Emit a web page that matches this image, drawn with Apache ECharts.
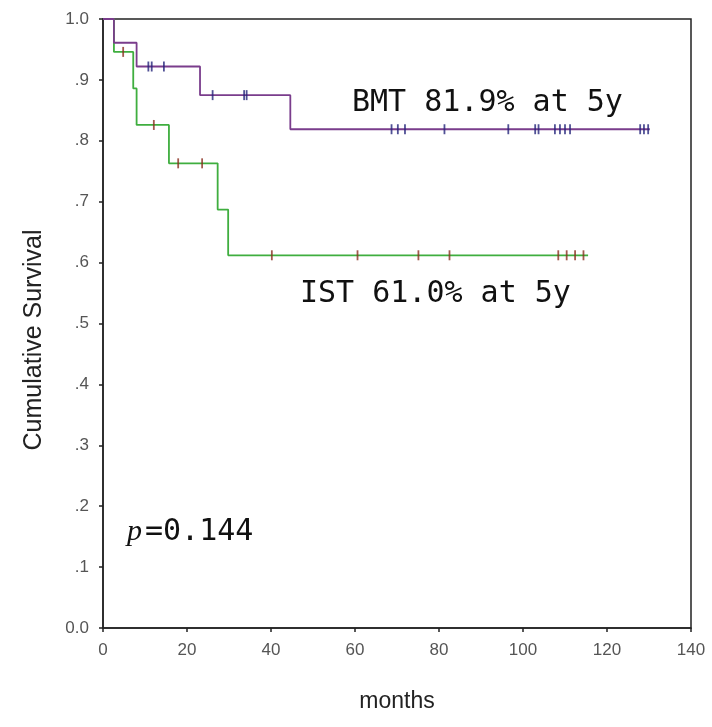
<!DOCTYPE html>
<html>
<head>
<meta charset="utf-8">
<script src="https://cdn.jsdelivr.net/npm/echarts@6/dist/echarts.min.js"></script>
<style>
html,body{margin:0;padding:0;background:#fff;}
#chart{width:712px;height:727px;}
</style>
</head>
<body>
<div id="chart"></div>
<script>
// ---- data ----
const xTickLabels = ['0','20','40','60','80','100','120','140'];
const yTickLabels = ['0.0','.1','.2','.3','.4','.5','.6','.7','.8','.9','1.0'];

const bmtEventTimes = [0, 2.6, 8.0, 23.1, 44.6];
const bmtSurvival   = [1.0, 0.961, 0.922, 0.875, 0.819];
const bmtEnd = 130.2;
const bmtCensored = [10.8, 11.6, 14.5, 26.1, 33.6, 34.2, 68.7, 70.2, 71.9, 81.3, 96.5,
                     102.9, 103.7, 107.6, 108.8, 110.0, 111.2, 127.9, 128.8, 129.8];

const istEventTimes = [0, 2.6, 7.2, 8.0, 15.7, 27.3, 29.8];
const istSurvival   = [1.0, 0.946, 0.886, 0.826, 0.763, 0.687, 0.612];
const istEnd = 115.5;
const istCensored = [4.8, 12.1, 17.9, 23.6, 40.2, 60.6, 75.1, 82.5, 108.4, 110.4, 112.4, 114.4];

const yTitle = 'Cumulative Survival';
const xTitle = 'months';
const bmtLabel = 'BMT 81.9% at 5y';
const istLabel = 'IST 61.0% at 5y';
const pLabel = '=0.144';

// ---- helpers ----
function stepData(times, surv, end) {
  const d = times.map((t, i) => [t, surv[i]]);
  d.push([end, surv[surv.length - 1]]);
  return d;
}
function survAt(times, surv, t) {
  let s = surv[0];
  for (let i = 0; i < times.length; i++) { if (times[i] <= t) s = surv[i]; }
  return s;
}
function censorData(cens, times, surv) {
  return cens.map(t => [t, survAt(times, surv, t)]);
}

const chart = echarts.init(document.getElementById('chart'), null, {renderer: 'canvas'});
const axisFont = "'Liberation Sans', Arial, sans-serif";
const monoFont = "'DejaVu Sans Mono', 'Liberation Mono', monospace";

chart.setOption({
  animation: false,
  backgroundColor: '#fff',
  grid: {left: 103, right: 21, top: 19, bottom: 99, show: true, borderColor: '#222', borderWidth: 1.5, backgroundColor: 'transparent'},
  xAxis: {
    type: 'value', min: 0, max: 140, interval: 20,
    name: xTitle, nameLocation: 'middle', nameGap: 62,
    nameTextStyle: {fontFamily: axisFont, fontSize: 23, color: '#222'},
    axisLine: {show: true, onZero: false, lineStyle: {color: '#222', width: 1.5}},
    axisTick: {show: true, inside: false, length: 4, lineStyle: {color: '#222', width: 1.5}},
    axisLabel: {margin: 14, fontFamily: axisFont, fontSize: 17, color: '#555',
      formatter: (v) => xTickLabels[Math.round(v / 20)]},
    splitLine: {show: false}
  },
  yAxis: {
    type: 'value', min: 0, max: 1, interval: 0.1,
    axisLine: {show: true, onZero: false, lineStyle: {color: '#222', width: 1.5}},
    axisTick: {show: true, inside: false, length: 4, lineStyle: {color: '#222', width: 1.5}},
    axisLabel: {margin: 14, fontFamily: axisFont, fontSize: 17, color: '#555',
      formatter: (v) => yTickLabels[Math.round(v * 10)]},
    splitLine: {show: false}
  },
  series: [
    {name: 'IST', type: 'line', step: 'end', data: stepData(istEventTimes, istSurvival, istEnd),
     showSymbol: false, lineStyle: {color: '#3fae3f', width: 1.8}, z: 2},
    {name: 'BMT', type: 'line', step: 'end', data: stepData(bmtEventTimes, bmtSurvival, bmtEnd),
     showSymbol: false, lineStyle: {color: '#7a3d8c', width: 1.8}, z: 3},
    {name: 'IST censored', type: 'scatter', data: censorData(istCensored, istEventTimes, istSurvival),
     symbol: 'rect', symbolSize: [1.8, 10], itemStyle: {color: '#8a3020'}, z: 4},
    {name: 'BMT censored', type: 'scatter', data: censorData(bmtCensored, bmtEventTimes, bmtSurvival),
     symbol: 'rect', symbolSize: [1.8, 10], itemStyle: {color: '#24247a'}, z: 5}
  ],
  graphic: [
    {type: 'text', x: 34, y: 340, rotation: Math.PI / 2, style: {text: yTitle, font: '25px ' + axisFont, fill: '#222', textAlign: 'center', textVerticalAlign: 'middle'}},
    {type: 'text', x: 352, y: 103, style: {text: bmtLabel, font: '30px ' + monoFont, fill: '#111', textVerticalAlign: 'middle'}},
    {type: 'text', x: 300, y: 294, style: {text: istLabel, font: '30px ' + monoFont, fill: '#111', textVerticalAlign: 'middle'}},
    {type: 'text', x: 127, y: 532, style: {
      text: '{p|p}{n|' + pLabel + '}', textVerticalAlign: 'middle',
      rich: {
        p: {fontFamily: "'Liberation Serif', serif", fontStyle: 'italic', fontSize: 30, fill: '#111', padding: [0, 3, 0, 0]},
        n: {fontFamily: monoFont, fontSize: 30, fill: '#111'}
      }
    }}
  ]
});
</script>
</body>
</html>
